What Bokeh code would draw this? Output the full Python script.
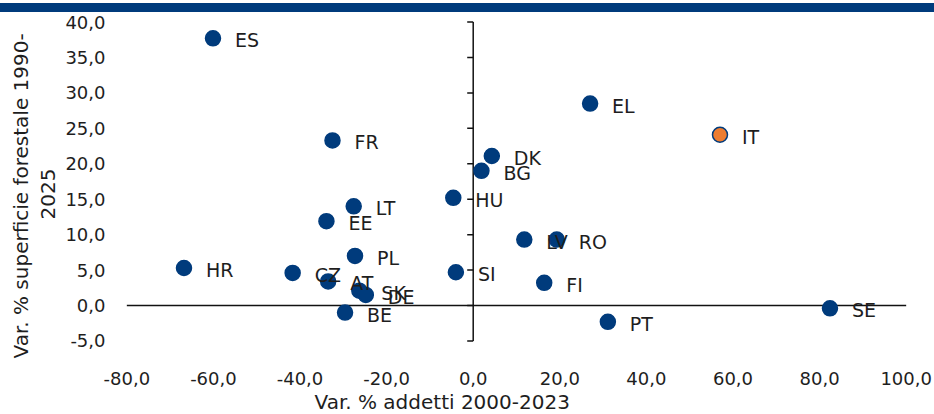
import numpy as np
from bokeh.plotting import figure
from bokeh.layouts import column
from bokeh.models import Range1d, FixedTicker, Title, ColumnDataSource, Div
from bokeh.core.properties import value
from bokeh.embed import file_html
from bokeh.resources import INLINE

# ---- data ----
countries = ["ES", "FR", "LT", "EE", "PL", "HR", "CZ", "AT", "SK", "DE", "BE",
             "HU", "SI", "BG", "DK", "LV", "RO", "EL", "IT", "FI", "PT", "SE"]
addetti = [-60.1, -32.5, -27.6, -33.9, -27.3, -66.8, -41.7, -33.5, -26.3, -24.8, -29.6,
           -4.6, -4.0, 1.9, 4.3, 11.8, 19.3, 27.0, 57.0, 16.4, 31.1, 82.4]
superficie = [37.7, 23.3, 14.0, 11.9, 7.0, 5.3, 4.6, 3.4, 2.1, 1.5, -1.0,
              15.2, 4.7, 19.0, 21.1, 9.3, 9.3, 28.5, 24.1, 3.2, -2.3, -0.4]
highlight = "IT"

x_ticks = [-80, -60, -40, -20, 0, 20, 40, 60, 80, 100]
x_tick_labels = ["-80,0", "-60,0", "-40,0", "-20,0", "0,0", "20,0", "40,0", "60,0", "80,0", "100,0"]
y_ticks = [-5, 0, 5, 10, 15, 20, 25, 30, 35, 40]
y_tick_labels = ["-5,0", "0,0", "5,0", "10,0", "15,0", "20,0", "25,0", "30,0", "35,0", "40,0"]

x_title = "Var. % addetti 2000-2023"
y_title_1 = "Var. % superficie forestale 1990-"
y_title_2 = "2025"

NAVY = "#003B7C"
ORANGE = "#ED7D31"
TXT = "#1e1e1e"
FONT = "DejaVu Sans"

fills = [ORANGE if c == highlight else NAVY for c in countries]
src = ColumnDataSource(dict(x=addetti, y=superficie, c=countries, f=fills))

p = figure(width=934, height=402,
           x_range=Range1d(x_ticks[0] - 1, x_ticks[-1] + 1),
           y_range=Range1d(y_ticks[0] - 0.5, y_ticks[-1] + 0.5),
           output_backend="svg", toolbar_location=None,
           min_border_left=122, min_border_right=24,
           min_border_top=6, min_border_bottom=70)
p.outline_line_color = None
p.grid.visible = False
p.background_fill_color = "white"
p.border_fill_color = "white"

for ax, ticks, labels in ((p.xaxis, x_ticks, x_tick_labels), (p.yaxis, y_ticks, y_tick_labels)):
    ax.ticker = FixedTicker(ticks=ticks)
    ax.major_label_overrides = dict(zip(ticks, labels))
    ax.axis_line_color = None
    ax.major_tick_line_color = None
    ax.minor_tick_line_color = None
    ax.major_tick_out = 0
    ax.major_tick_in = 0
    ax.major_label_text_font = FONT
    ax.major_label_text_font_size = "18px"
    ax.major_label_text_color = TXT
p.xaxis.major_label_standoff = 27
p.yaxis.major_label_standoff = 17

title_style = dict(text_font=FONT, text_font_size="20px", text_font_style="normal", text_color=TXT)
p.add_layout(Title(text=x_title, align="left", offset=192, standoff=0, **title_style), "below")
p.add_layout(Title(text=y_title_2, align="left", offset=125, standoff=13,
                   vertical_align="middle", **title_style), "left")
p.add_layout(Title(text=y_title_1, align="left", offset=-14, standoff=2, **title_style), "left")

# axis lines crossing at the origin
p.segment(x0=[x_ticks[0]], y0=[0], x1=[x_ticks[-1]], y1=[0], line_color="#111111", line_width=1.5)
p.segment(x0=[0], y0=[y_ticks[0]], x1=[0], y1=[y_ticks[-1]], line_color="#111111", line_width=1.5)
p.ray(x=[0] * len(y_ticks), y=y_ticks, length=6, length_units="screen", angle=np.pi,
      line_color="#111111", line_width=1.5)

# points
p.scatter(x="x", y="y", source=src, size=15, fill_color="f", line_color=NAVY, line_width=1.5)
p.text(x="x", y="y", text="c", source=src, x_offset=22, y_offset=2,
       text_font=value(FONT), text_font_size="19px", text_color=TXT,
       text_align="left", text_baseline="middle")

band = Div(text="", width=934, height=9, margin=(3, 0, 0, 0),
           styles={"background-color": NAVY})
page = column(band, p, spacing=0)

open("out.html", "w").write(file_html(page, INLINE))
